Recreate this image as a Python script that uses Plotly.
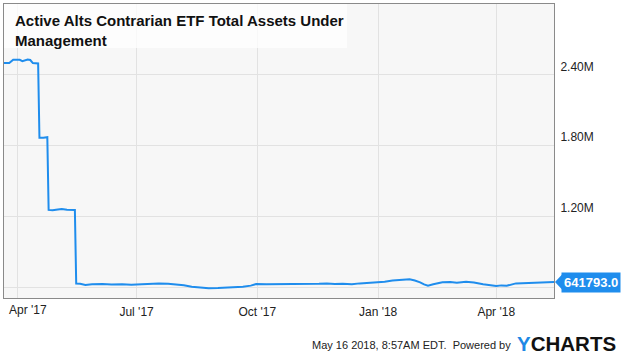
import plotly.graph_objects as go

dates = [
    "2017-03-22", "2017-03-26", "2017-03-29", "2017-04-03", "2017-04-05", "2017-04-07",
    "2017-04-09", "2017-04-11", "2017-04-13", "2017-04-17", "2017-04-18", "2017-04-21",
    "2017-04-24", "2017-04-25", "2017-04-28", "2017-05-02", "2017-05-05", "2017-05-09",
    "2017-05-12", "2017-05-15", "2017-05-16", "2017-05-19", "2017-05-23", "2017-05-28",
    "2017-06-05", "2017-06-12", "2017-06-20", "2017-06-27", "2017-07-05", "2017-07-12",
    "2017-07-18", "2017-07-25", "2017-07-31", "2017-08-06", "2017-08-12", "2017-08-18",
    "2017-08-25", "2017-09-01", "2017-09-07", "2017-09-14", "2017-09-20", "2017-09-26",
    "2017-09-30", "2017-10-08", "2017-10-15", "2017-10-22", "2017-10-28", "2017-11-04",
    "2017-11-10", "2017-11-17", "2017-11-23", "2017-11-29", "2017-12-05", "2017-12-12",
    "2017-12-18", "2017-12-24", "2017-12-31", "2018-01-06", "2018-01-12", "2018-01-17",
    "2018-01-22", "2018-01-25", "2018-01-29", "2018-02-02", "2018-02-05", "2018-02-08",
    "2018-02-12", "2018-02-16", "2018-02-19", "2018-02-25", "2018-03-02", "2018-03-09",
    "2018-03-15", "2018-03-22", "2018-03-27", "2018-04-01", "2018-04-05", "2018-04-09",
    "2018-04-16", "2018-04-22", "2018-04-29", "2018-05-05", "2018-05-10", "2018-05-15",
]
aum = [
    2499000, 2499000, 2527000, 2527000, 2516000, 2520000,
    2530000, 2525000, 2499000, 2496000, 1865000, 1865000,
    1870000, 1254000, 1252000, 1258000, 1262000, 1256000,
    1258000, 1254000, 630000, 628000, 617000, 623000,
    625000, 621000, 624000, 620000, 623000, 627000,
    631000, 628000, 623000, 616000, 603000, 597000,
    589000, 591000, 594000, 598000, 603000, 612000,
    625000, 623000, 623000, 627000, 625000, 622000,
    623000, 628000, 631000, 626000, 628000, 624000,
    631000, 634000, 640000, 645000, 656000, 660000,
    667000, 665000, 655000, 640000, 622000, 611000,
    623000, 632000, 640000, 642000, 637000, 645000,
    638000, 623000, 615000, 609000, 614000, 611000,
    631000, 633000, 636000, 637000, 640000, 641793,
]

y_tickvals = [600000, 1200000, 1800000, 2400000]
y_ticktext = ["", "1.20M", "1.80M", "2.40M"]
x_tickvals = ["2017-04-01", "2017-07-01", "2017-10-01", "2018-01-01", "2018-04-01"]
x_ticktext = ["Apr '17", "Jul '17", "Oct '17", "Jan '18", "Apr '18"]

title_text = "Active Alts Contrarian ETF Total Assets Under<br>Management"
last_label = "641793.0"
footer_text = "May 16 2018, 8:57AM EDT.  Powered by"

LINE = "#1f8ded"
FONT = "Liberation Sans, Arial, sans-serif"
TICKFONT = dict(family=FONT, size=12, color="#222222")

# the first label is drawn nudged right (kept inside the chart), as in the reference
x_labels = [""] + x_ticktext[1:]

fig = go.Figure()
fig.add_trace(go.Scatter(
    x=dates, y=aum, mode="lines",
    line=dict(color=LINE, width=2), hoverinfo="skip", showlegend=False,
))

fig.update_layout(
    width=623, height=356,
    margin=dict(l=4, r=69, t=4, b=58, autoexpand=False),
    paper_bgcolor="white", plot_bgcolor="#f7f7f7",
    font=dict(family=FONT, size=12, color="#333333"),
    xaxis=dict(
        range=["2017-03-22", "2018-05-15"],
        tickvals=x_tickvals, ticktext=x_labels,
        ticklabelstandoff=3,
        showgrid=True, gridcolor="#e2e2e2", gridwidth=1,
        showline=True, linecolor="#8a8a8a", linewidth=1, mirror=True,
        ticks="", ticklen=0, zeroline=False, tickfont=TICKFONT,
    ),
    yaxis=dict(
        range=[507000, 3000000], side="right",
        tickvals=y_tickvals, ticktext=y_ticktext,
        ticklabelposition="outside top", ticklabelstandoff=3,
        showgrid=True, gridcolor="#e2e2e2", gridwidth=1,
        showline=True, linecolor="#8a8a8a", linewidth=1, mirror=True,
        ticks="", ticklen=0, zeroline=False, tickfont=TICKFONT,
    ),
)

fig.add_annotation(
    x=x_tickvals[0], y=0, xref="x", yref="paper", xanchor="left", yanchor="top",
    xshift=-10, yshift=-3, text=x_ticktext[0], showarrow=False, font=TICKFONT,
)

# title box
fig.add_shape(type="rect", xref="paper", yref="paper",
              x0=0, x1=343 / 550, y0=(298 - 48) / 294, y1=1,
              fillcolor="rgba(255,255,255,0.75)", line=dict(width=0), layer="above")
fig.add_annotation(
    x=9 / 550, y=1 - 6 / 294, xref="paper", yref="paper",
    xanchor="left", yanchor="top", align="left",
    text="<b>" + title_text + "</b>", showarrow=False,
    font=dict(family=FONT, size=15, color="#111111"),
)

# last value flag
fig.add_annotation(
    x=1, y=aum[-1], xref="paper", yref="y", xanchor="left", yanchor="middle",
    xshift=7, text="<b>" + last_label + "</b>", showarrow=False,
    bgcolor=LINE, borderpad=2, font=dict(family=FONT, size=13, color="white"),
)
fig.add_shape(type="path", xref="paper", yref="y",
              path=f"M {1 + 1/550},{aum[-1]} L {1 + 9/550},{aum[-1] + 72000} L {1 + 9/550},{aum[-1] - 72000} Z",
              fillcolor=LINE, line=dict(width=0), layer="above")

# footer
fig.add_annotation(
    x=509 / 550, y=-47 / 294, xref="paper", yref="paper",
    xanchor="right", yanchor="middle", text=footer_text, showarrow=False,
    font=dict(family=FONT, size=11, color="#222222"),
)
fig.add_annotation(
    x=511 / 550, y=-45 / 294, xref="paper", yref="paper",
    xanchor="left", yanchor="middle",
    text="<b><span style='color:#1e88e5'>Y</span>CHARTS</b>", showarrow=False,
    font=dict(family=FONT, size=20.5, color="#111111"),
)

fig.write_html("out.html", config={"displayModeBar": False},
               post_script="document.body.style.margin='0';")
